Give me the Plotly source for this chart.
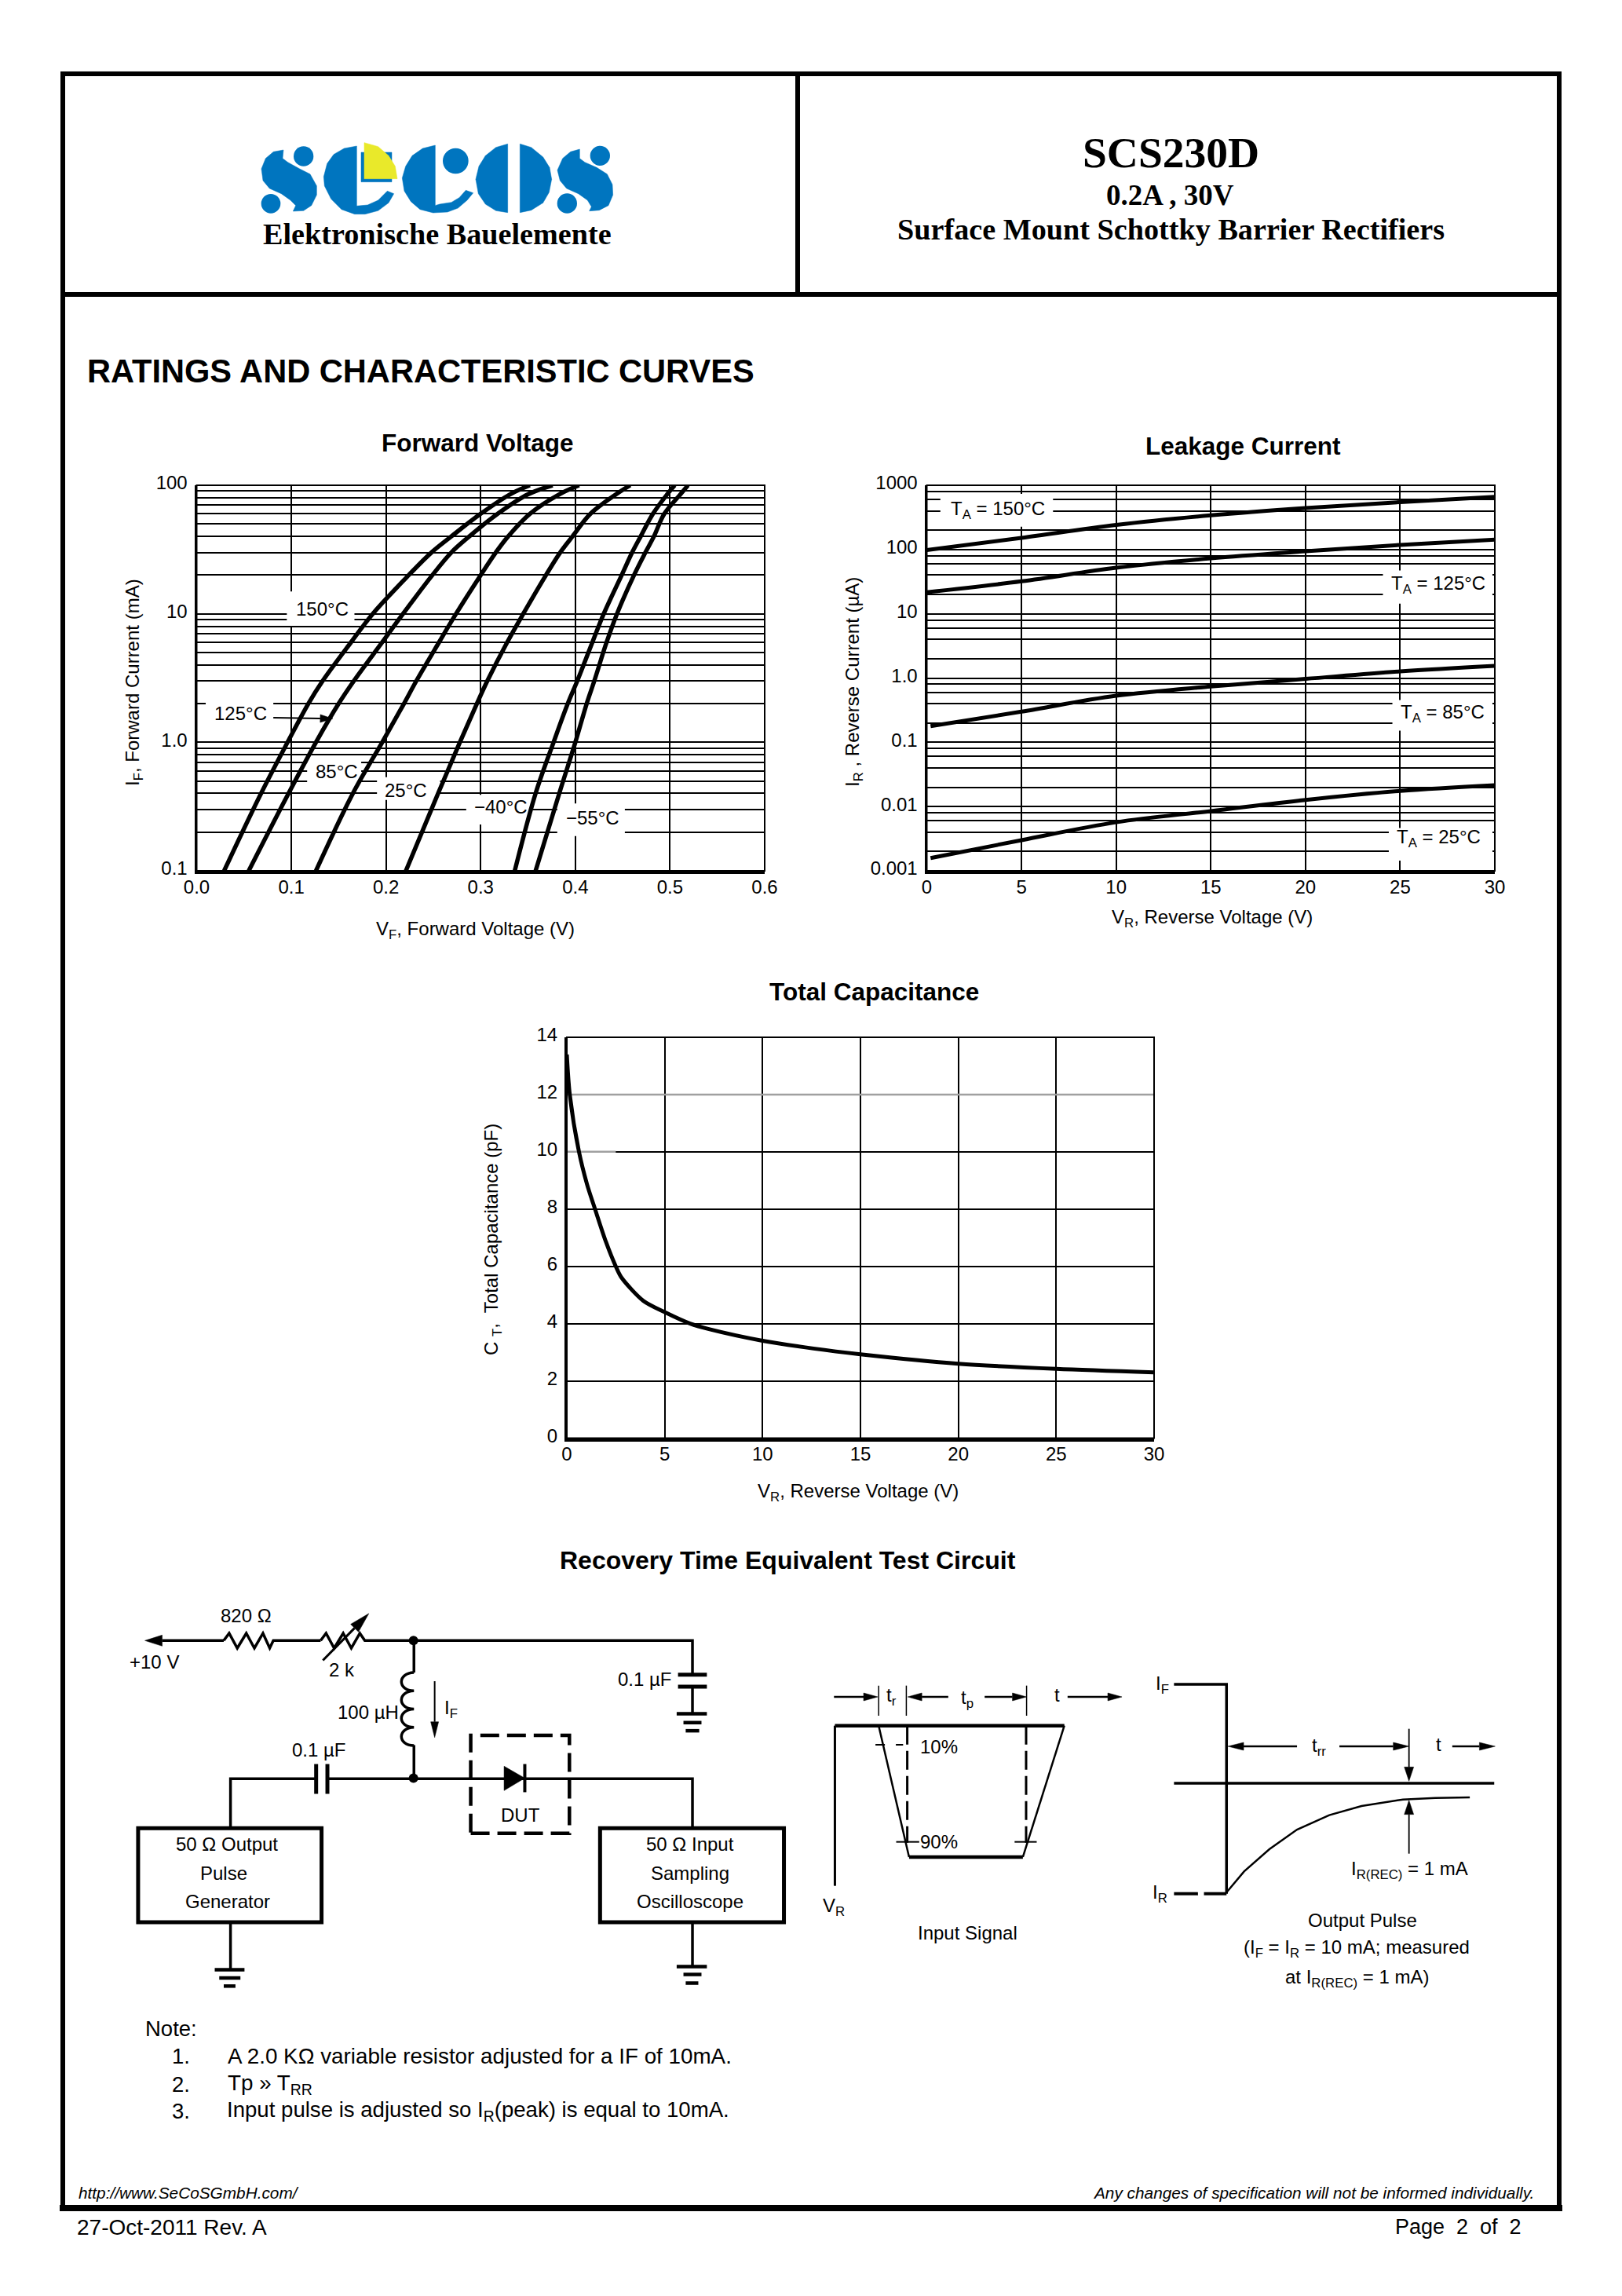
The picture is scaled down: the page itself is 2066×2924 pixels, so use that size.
import plotly.graph_objects as go

W, H = 2066, 2924
SANS = "Liberation Sans, Arial, sans-serif"
NARROW = "Liberation Sans, Arial, sans-serif"
SERIF = "Liberation Serif, Times New Roman, serif"
BLUE = "#0075BF"
YELLOW = "#E9E92A"

# ---------- Forward voltage data ----------
if_values = [0.1, 0.4, 1, 2, 3, 6, 10, 20, 30, 40, 60, 85, 100]
vf_150 = [0.029, 0.068, 0.096, 0.118, 0.133, 0.163, 0.186, 0.224, 0.248, 0.269, 0.300, 0.331, 0.352]
vf_125 = [0.055, 0.097, 0.126, 0.150, 0.166, 0.196, 0.218, 0.249, 0.269, 0.288, 0.318, 0.350, 0.376]
vf_85 = [0.126, 0.165, 0.196, 0.219, 0.232, 0.256, 0.274, 0.300, 0.316, 0.329, 0.352, 0.383, 0.404]
vf_25 = [0.221, 0.255, 0.278, 0.296, 0.307, 0.328, 0.345, 0.369, 0.384, 0.397, 0.416, 0.443, 0.458]
vf_m40 = [0.336, 0.358, 0.377, 0.392, 0.402, 0.418, 0.430, 0.449, 0.460, 0.469, 0.482, 0.497, 0.505]
vf_m55 = [0.358, 0.383, 0.400, 0.412, 0.420, 0.433, 0.444, 0.462, 0.474, 0.483, 0.494, 0.511, 0.519]
forward_series = [vf_150, vf_125, vf_85, vf_25, vf_m40, vf_m55]
forward_names = ["150°C", "125°C", "85°C", "25°C", "−40°C", "−55°C"]
forward_xticks = [0.0, 0.1, 0.2, 0.3, 0.4, 0.5, 0.6]
forward_yticks = [0.1, 1, 10, 100]
forward_yticktext = ["0.1", "1.0", "10", "100"]
forward_minor = [m * d for d in (0.1, 1, 10) for m in range(2, 10)]

# ---------- Leakage current data ----------
vr_points = [0, 5, 10, 15, 20, 25, 30]
vr_low = [0.2, 5, 10, 15, 20, 25, 30]
ir_150 = [98, 152, 241, 340, 442, 547, 660]
ir_125 = [21.7, 32, 52, 73, 94, 118, 142]
ir_85 = [0.178, 0.30, 0.53, 0.74, 0.97, 1.27, 1.55]
ir_25 = [0.00158, 0.0030, 0.0057, 0.0085, 0.0127, 0.0175, 0.0215]
leak_yticks = [0.001, 0.01, 0.1, 1, 10, 100, 1000]
leak_yticktext = ["0.001", "0.01", "0.1", "1.0", "10", "100", "1000"]
leak_minor = [m * d for d in (0.001, 0.01, 0.1, 1, 10, 100) for m in (2, 4, 6, 8)]
leak_xticks = [0, 5, 10, 15, 20, 25, 30]

# ---------- Capacitance data ----------
cap_v = [0, 0.15, 0.62, 1.03, 1.44, 2.0, 2.5, 2.8, 3.9, 5, 6.3, 7.3, 10, 12.6, 15, 20, 25, 30]
cap_pf = [13.4, 12.0, 10.0, 8.87, 8.0, 6.85, 6.0, 5.6, 4.8, 4.4, 4.0, 3.8, 3.4, 3.13, 2.93, 2.6, 2.42, 2.3]
cap_yticks = [0, 2, 4, 6, 8, 10, 12, 14]
cap_xticks = [0, 5, 10, 15, 20, 25, 30]


def px(x):
    return x / W


def py(y):
    return 1 - y / H


def Z4(x, y):
    return (130 + x / 1.742, 2030 + y / 2.9)


def Z5(x, y):
    return (1030 + x / 1.704, 2100 + y / 3)


def LG(x, y):
    return (325 + x / 3, 175 + y / 3)


shapes, annos = [], []


def T(x, y, text, size=24, font=NARROW, anchor="center", angle=0, color="black"):
    annos.append(dict(x=px(x), y=py(y), xref="paper", yref="paper", text=text, showarrow=False,
                      xanchor=anchor, yanchor="middle", textangle=angle,
                      font=dict(family=font, size=size, color=color)))


def path(points, close=False):
    s = "M " + " L ".join(f"{px(a):.5f} {py(b):.5f}" for a, b in points)
    return s + (" Z" if close else "")


def poly(points, width=3.5, color="black", dash=None):
    shapes.append(dict(type="path", path=path(points), xref="paper", yref="paper", layer="above",
                       line=dict(color=color, width=width, dash=dash), fillcolor="rgba(0,0,0,0)"))


def solid(points, color="black"):
    shapes.append(dict(type="path", path=path(points, True), xref="paper", yref="paper", layer="above",
                       line=dict(color=color, width=0.5), fillcolor=color))


def ellipse(cx, cy, rx, ry, color="black"):
    shapes.append(dict(type="circle", xref="paper", yref="paper", layer="above",
                       x0=px(cx - rx), x1=px(cx + rx), y0=py(cy + ry), y1=py(cy - ry),
                       line=dict(color=color, width=0), fillcolor=color))


def rect(x0, y0, x1, y1, width=4, dash=None):
    shapes.append(dict(type="rect", xref="paper", yref="paper", layer="above",
                       x0=px(x0), x1=px(x1), y0=py(y1), y1=py(y0),
                       line=dict(color="black", width=width, dash=dash)))


def arrow(p0, p1, head=17, half=6, width=3.5):
    dx, dy = p1[0] - p0[0], p1[1] - p0[1]
    n = (dx * dx + dy * dy) ** 0.5
    ux, uy = dx / n, dy / n
    b = (p1[0] - ux * head, p1[1] - uy * head)
    poly([p0, b], width)
    solid([p1, (b[0] - uy * half, b[1] + ux * half), (b[0] - uy * -half, b[1] + ux * -half)])


# ---------- page frame ----------
rect(80, 94, 1986, 2812, width=6)
poly([(76, 2812), (1990, 2812)], 8)
poly([(80, 375), (1986, 375)], 6)
poly([(1016, 94), (1016, 375)], 6)

# ---------- header ----------
s1 = [(108, 48), (70, 55), (40, 80), (24, 120), (30, 165), (55, 195), (100, 215), (135, 240), (155, 260),
      (145, 282), (185, 280), (215, 260), (235, 220), (235, 185), (210, 140), (170, 120), (125, 95), (105, 80)]
letter_e = [(388, 33), (340, 42), (300, 65), (275, 100), (262, 150), (265, 185), (290, 235), (330, 275),
            (380, 293), (420, 293), (470, 280), (510, 250), (530, 215), (505, 205), (470, 240), (430, 258), (388, 262)]
letter_c = [(688, 30), (640, 42), (600, 70), (575, 110), (562, 155), (570, 205), (595, 245), (630, 275),
            (680, 288), (735, 285), (775, 270), (810, 240), (833, 212), (805, 202), (780, 230), (750, 248),
            (705, 255), (688, 260)]
o_left = [(965, 25), (920, 38), (880, 70), (855, 110), (843, 160), (853, 215), (880, 255), (920, 280), (965, 287)]
o_right = [(1012, 25), (1055, 38), (1100, 75), (1125, 115), (1133, 160), (1123, 210), (1100, 250), (1055, 278), (1012, 287)]
s2 = [(1240, 45), (1205, 55), (1175, 80), (1155, 125), (1165, 165), (1190, 195), (1235, 215), (1270, 240),
      (1285, 265), (1277, 281), (1315, 278), (1350, 260), (1367, 220), (1365, 180), (1345, 140), (1305, 115),
      (1260, 95), (1240, 80)]
for shape_pts in (s1, letter_e, letter_c, o_left, o_right, s2):
    solid([LG(*p) for p in shape_pts], BLUE)
for cx, cy, r in ((185, 72, 38), (60, 253, 37), (766, 90, 49), (1318, 70, 38), (1192, 252, 38)):
    ellipse(*LG(cx, cy), r / 3, r / 3, BLUE)
solid([LG(*p) for p in ((405, 57), (522, 57), (522, 170), (405, 170))], BLUE)
solid([LG(*p) for p in ((417, 20), (470, 35), (510, 70), (535, 110), (543, 158), (417, 158))], YELLOW)
T(557, 298, "<b>Elektronische Bauelemente</b>", 38.2, SERIF)
T(1491, 194, "<b>SCS230D</b>", 55.5, SERIF)
T(1490, 248, "<b>0.2A , 30V</b>", 37, SERIF)
T(1491, 292, "<b>Surface Mount Schottky Barrier Rectifiers</b>", 38.2, SERIF)
T(109, 472, "<b>RATINGS AND CHARACTERISTIC CURVES</b>", 41.6, SANS, "left")

# ---------- chart titles and axis titles ----------
T(608, 564, "<b>Forward Voltage</b>", 31.5, SANS)
T(1583, 568, "<b>Leakage Current</b>", 31.5, SANS)
T(1113, 1263, "<b>Total Capacitance</b>", 31.5, SANS)
T(1003, 1987, "<b>Recovery Time Equivalent Test Circuit</b>", 32, SANS)
T(605, 1184, "V<sub>F</sub>, Forward Voltage (V)", 24)
T(170, 869, "I<sub>F</sub>, Forward Current (mA)", 24, angle=-90)
T(1544, 1169, "V<sub>R</sub>, Reverse Voltage (V)", 24)
T(1087, 869, "I<sub>R</sub> , Reverse Current (µA)", 24, angle=-90)
T(1093, 1900, "V<sub>R</sub>, Reverse Voltage (V)", 24)
T(627, 1579, "C <sub>T</sub>,  Total Capacitance (pF)", 24, angle=-90)

# ---------- in-plot labels ----------
A = (250.5, 974, 618, 1109)      # forward plot box in page pixels
B = (1180.5, 1904, 618, 1109)    # leakage plot box in page pixels
C = (722, 1470, 1321, 1831.5)    # capacitance plot box in page pixels


def Z1(x, y):
    return (130 + x / 1.742, 530 + y / 2.24)


def Z2(x, y):
    return (1060 + x / 1.742, 530 + y / 2.24)


def mask(ax, box, zfun, xspan, ylog, x0, y0, x1, y1):
    a = zfun(x0, y0)
    b = zfun(x1, y1)
    to_x = lambda v: (v - box[0]) / (box[1] - box[0]) * xspan
    to_y = lambda v: 10 ** (ylog[0] + (box[3] - v) / (box[3] - box[2]) * (ylog[1] - ylog[0]))
    shapes.append(dict(type="rect", layer="between", xref=ax, yref=ax.replace("x", "y"),
                       x0=to_x(a[0]), x1=to_x(b[0]), y0=to_y(b[1]), y1=to_y(a[1]),
                       fillcolor="white", line=dict(width=0)))


for m in ((410, 500, 560, 598), (230, 812, 380, 885), (455, 985, 575, 1050), (610, 1030, 750, 1095),
          (808, 1080, 955, 1165), (1010, 1105, 1160, 1198)):
    mask("x", A, Z1, 0.6, (-1, 2), *m)
for m in ((240, 222, 490, 315), (1222, 440, 1465, 535), (1243, 810, 1465, 897), (1235, 1175, 1465, 1268)):
    mask("x2", B, Z2, 30, (-3, 3), *m)

T(*Z1(488, 550), "150°C")
T(*Z1(307, 848), "125°C")
T(*Z1(520, 1013), "85°C")
T(*Z1(675, 1068), "25°C")
T(*Z1(885, 1115), "−40°C")
T(*Z1(1088, 1145), "−55°C")
arrow(Z1(380, 860), Z1(512, 863), head=16, half=5, width=2)
T(*Z2(367, 268), "T<sub>A</sub> = 150°C")
T(*Z2(1345, 480), "T<sub>A</sub> = 125°C")
T(*Z2(1355, 848), "T<sub>A</sub> = 85°C")
T(*Z2(1345, 1203), "T<sub>A</sub> = 25°C")

for box in (A, B, C):
    x0, x1, y0, y1 = box
    rect(x0, y0, x1, y1, width=2)

shapes.append(dict(type="line", layer="between", xref="x3", yref="y3", x0=0, x1=30, y0=12, y1=12,
                   line=dict(color="#a0a0a0", width=2.5)))
shapes.append(dict(type="line", layer="between", xref="x3", yref="y3", x0=0, x1=2.5, y0=10, y1=10,
                   line=dict(color="#a0a0a0", width=2.5)))

# ---------- circuit ----------
def Z4L(*pts):
    return [Z4(*p) for p in pts]


arrow(Z4(270, 172), Z4(95, 172), head=22, half=7)
poly(Z4L((270, 172), (282, 145), (300, 200), (320, 145), (338, 200), (357, 145), (372, 200), (380, 172), (485, 172)))
poly(Z4L((485, 172), (497, 145), (515, 200), (535, 145), (553, 200), (572, 145), (583, 172), (1310, 172),
         (1310, 298)))
poly(Z4L((1310, 342), (1310, 442)))
poly(Z4L((1278, 298), (1342, 298)), 5)
poly(Z4L((1278, 342), (1342, 342)), 5)
poly(Z4L((1275, 442), (1342, 442)), 4.5)
poly(Z4L((1290, 475), (1330, 475)), 4.5)
poly(Z4L((1295, 505), (1325, 505)), 4.5)
arrow(Z4(490, 245), Z4(592, 72), head=26, half=7, width=3)
ellipse(*Z4(691, 172), 6, 6)
ellipse(*Z4(691, 680), 6, 6)
poly(Z4L((692, 172), (692, 290)))
coil = path([Z4(692, 290)])
for i in range(4):
    y = 290 + i * 67.5
    c1, c2, e = Z4(655, y + 2), Z4(655, y + 66), Z4(692, y + 67.5)
    coil += f" C {px(c1[0]):.5f} {py(c1[1]):.5f} {px(c2[0]):.5f} {py(c2[1]):.5f} {px(e[0]):.5f} {py(e[1]):.5f}"
shapes.append(dict(type="path", path=coil, xref="paper", yref="paper", layer="above",
                   line=dict(color="black", width=3.5), fillcolor="rgba(0,0,0,0)"))
poly(Z4L((692, 558), (692, 680)))
arrow(Z4(738, 322), Z4(738, 530), head=20, half=5, width=2)
poly(Z4L((285, 865), (285, 682), (472, 682)))
poly(Z4L((475, 628), (475, 738)), 5)
poly(Z4L((500, 628), (500, 738)), 5)
poly(Z4L((500, 682), (1310, 682), (1310, 865)))
solid(Z4L((892, 636), (892, 726), (938, 680)))
poly(Z4L((938, 628), (938, 732)), 4)
x0, y0 = Z4(818, 522)
x1, y1 = Z4(1037, 884)
rect(x0, y0, x1, y1, width=4.5, dash="24px,10px")
rect(*Z4(80, 865), *Z4(487, 1212), width=5)
rect(*Z4(1105, 865), *Z4(1513, 1212), width=5)
poly(Z4L((285, 1212), (285, 1388)))
poly(Z4L((250, 1388), (316, 1388)), 4.5)
poly(Z4L((260, 1418), (307, 1418)), 4.5)
poly(Z4L((270, 1448), (296, 1448)), 4.5)
poly(Z4L((1310, 1212), (1310, 1376)))
poly(Z4L((1275, 1376), (1342, 1376)), 4.5)
poly(Z4L((1290, 1405), (1330, 1405)), 4.5)
poly(Z4L((1295, 1437), (1323, 1437)), 4.5)

for zx, zy, txt in ((320, 80, "820 Ω"), (115, 252, "+10 V"), (533, 280, "2 k"), (590, 437, "100 µH"),
                    (775, 425, "I<sub>F</sub>"), (482, 575, "0.1 µF"), (1205, 315, "0.1 µF"), (928, 817, "DUT"),
                    (277, 925, "50 Ω Output"), (270, 1030, "Pulse"), (278, 1135, "Generator"),
                    (1305, 925, "50 Ω Input"), (1305, 1030, "Sampling"), (1305, 1135, "Oscilloscope")):
    T(*Z4(zx, zy), txt, 24)

# ---------- waveforms ----------
def Z5L(*pts):
    return [Z5(*p) for p in pts]


poly(Z5L((57, 905), (57, 293)), 3)
poly(Z5L((57, 293), (555, 293)), 4.5)
poly(Z5L((152, 293), (218, 795)), 2.5)
poly(Z5L((218, 795), (465, 795)), 4.5)
poly(Z5L((465, 795), (555, 293)), 2.5)
poly(Z5L((214, 293), (214, 740)), 3, dash="24px,8px")
poly(Z5L((472, 293), (472, 740)), 3, dash="24px,8px")
poly(Z5L((145, 366), (205, 366)), 2, dash="12px,14px")
poly(Z5L((190, 737), (240, 737)), 2)
poly(Z5L((447, 737), (495, 737)), 2)
for vx in (152, 212, 473):
    poly(Z5L((vx, 140), (vx, 255)), 1.5)
arrow(Z5(55, 183), Z5(150, 183), head=18, half=5, width=2.5)
arrow(Z5(303, 183), Z5(215, 183), head=18, half=5, width=2.5)
arrow(Z5(382, 183), Z5(473, 183), head=18, half=5, width=2.5)
arrow(Z5(562, 183), Z5(680, 183), head=18, half=5, width=2.5)
poly(Z5L((793, 135), (907, 135), (907, 935)), 3.5)
poly(Z5L((907, 935), (858, 935)), 4)
poly(Z5L((845, 935), (793, 935)), 4)
poly(Z5L((793, 513), (1488, 513)), 3.5)
poly(Z5L((907, 930), (945, 850), (1000, 765), (1060, 690), (1130, 635), (1200, 600), (1290, 575), (1360, 569),
         (1435, 567)), 2.5)
arrow(Z5(1060, 372), Z5(910, 372), head=20, half=5, width=2.5)
arrow(Z5(1152, 372), Z5(1303, 372), head=20, half=5, width=2.5)
arrow(Z5(1397, 372), Z5(1490, 372), head=20, half=5, width=2.5)
arrow(Z5(1303, 305), Z5(1303, 505), head=18, half=6, width=1.8)
arrow(Z5(1303, 782), Z5(1303, 578), head=18, half=6, width=1.8)
for zx, zy, txt in ((180, 180, "t<sub>r</sub>"), (345, 190, "t<sub>p</sub>"), (540, 175, "t"), (283, 372, "10%"),
                    (283, 735, "90%"), (55, 985, "V<sub>R</sub>"), (345, 1085, "Input Signal"),
                    (768, 135, "I<sub>F</sub>"), (762, 935, "I<sub>R</sub>"), (1107, 372, "t<sub>rr</sub>"),
                    (1367, 365, "t"), (1305, 845, "I<sub>R(REC)</sub> = 1 mA"), (1202, 1037, "Output Pulse"),
                    (1190, 1145, "(I<sub>F</sub> = I<sub>R</sub> = 10 mA; measured"),
                    (1190, 1258, "at I<sub>R(REC)</sub> = 1 mA)")):
    T(*Z5(zx, zy), txt, 24)

# ---------- notes and footer ----------
T(183, 2583, "Note:", 27.5, SANS, "left")
T(217, 2618, "1.", 27.5, SANS, "left")
T(217, 2654, "2.", 27.5, SANS, "left")
T(217, 2688, "3.", 27.5, SANS, "left")
T(288, 2618, "A 2.0 KΩ variable resistor adjusted for a IF of 10mA.", 27.8, SANS, "left")
T(288, 2654, "Tp » T<sub>RR</sub>", 27.8, SANS, "left")
T(287, 2688, "Input pulse is adjusted so I<sub>R</sub>(peak) is equal to 10mA.", 27.6, SANS, "left")
T(98, 2792, "<i>http://www.SeCoSGmbH.com/</i>", 20.8, SANS, "left")
T(1956, 2792, "<i>Any changes of specification will not be informed individually.</i>", 20.8, SANS, "right")
T(96, 2836, "27-Oct-2011 Rev. A", 28, SANS, "left")
T(1940, 2836, "Page  2  of  2", 27, SANS, "right")

# ---------- figure ----------
fig = go.Figure()
for name, vals in zip(forward_names, forward_series):
    fig.add_trace(go.Scatter(x=vals, y=if_values, mode="lines", name=name, xaxis="x", yaxis="y", cliponaxis=False,
                             line=dict(color="black", width=5.5, shape="spline", smoothing=1)))
for name, xs, vals in (("150°C", vr_points, ir_150), ("125°C", vr_points, ir_125),
                       ("85°C", vr_low, ir_85), ("25°C", vr_low, ir_25)):
    fig.add_trace(go.Scatter(x=xs, y=vals, mode="lines", name=name, xaxis="x2", yaxis="y2", cliponaxis=False,
                             line=dict(color="black", width=5, shape="spline", smoothing=1)))
fig.add_trace(go.Scatter(x=cap_v, y=cap_pf, mode="lines", name="CT", xaxis="x3", yaxis="y3", cliponaxis=False,
                         line=dict(color="black", width=5, shape="spline", smoothing=0.8)))

TICK = dict(family=NARROW, size=24, color="black")


def xax(box, tickvals, ticktext, rng):
    return dict(domain=[px(box[0]), px(box[1])], range=rng, tickmode="array", tickvals=tickvals, ticktext=ticktext,
                showgrid=True, gridcolor="black", gridwidth=2, showline=True, linecolor="black", linewidth=4,
                zeroline=False, ticks="outside", ticklen=0, tickfont=TICK, ticklabelstandoff=-4, fixedrange=True,
                automargin=False)


def yax(box, tickvals, ticktext, rng, kind, minor=None):
    d = dict(domain=[py(box[3]), py(box[2])], range=rng, type=kind, tickmode="array", tickvals=tickvals,
             ticktext=ticktext, showgrid=True, gridcolor="black", gridwidth=2, showline=True, linecolor="black",
             linewidth=3, zeroline=False, ticks="outside", ticklen=0, tickfont=TICK, ticklabelstandoff=4,
             ticklabelshift=-3, fixedrange=True, automargin=False)
    if minor:
        d["minor"] = dict(tickmode="array", tickvals=minor, showgrid=True, gridcolor="black", gridwidth=2, ticks="")
    return d


fig.update_layout(
    template="none",
    width=W, height=H, autosize=False, showlegend=False, paper_bgcolor="white", plot_bgcolor="white",
    margin=dict(l=0, r=0, t=0, b=0, pad=0),
    xaxis=xax(A, forward_xticks, [f"{v:.1f}" for v in forward_xticks], [0, 0.6]),
    yaxis=yax(A, forward_yticks, forward_yticktext, [-1, 2], "log", forward_minor),
    xaxis2=dict(xax(B, leak_xticks, [str(v) for v in leak_xticks], [0, 30]), anchor="y2"),
    yaxis2=dict(yax(B, leak_yticks, leak_yticktext, [-3, 3], "log", leak_minor), anchor="x2"),
    xaxis3=dict(xax(C, cap_xticks, [str(v) for v in cap_xticks], [0, 30]), anchor="y3"),
    yaxis3=dict(yax(C, cap_yticks, [str(v) for v in cap_yticks], [0, 14], "linear"), anchor="x3"),
    shapes=shapes, annotations=annos,
)
fig.write_html("out.html", config=dict(displayModeBar=False),
               post_script="document.body.style.margin='0';")
